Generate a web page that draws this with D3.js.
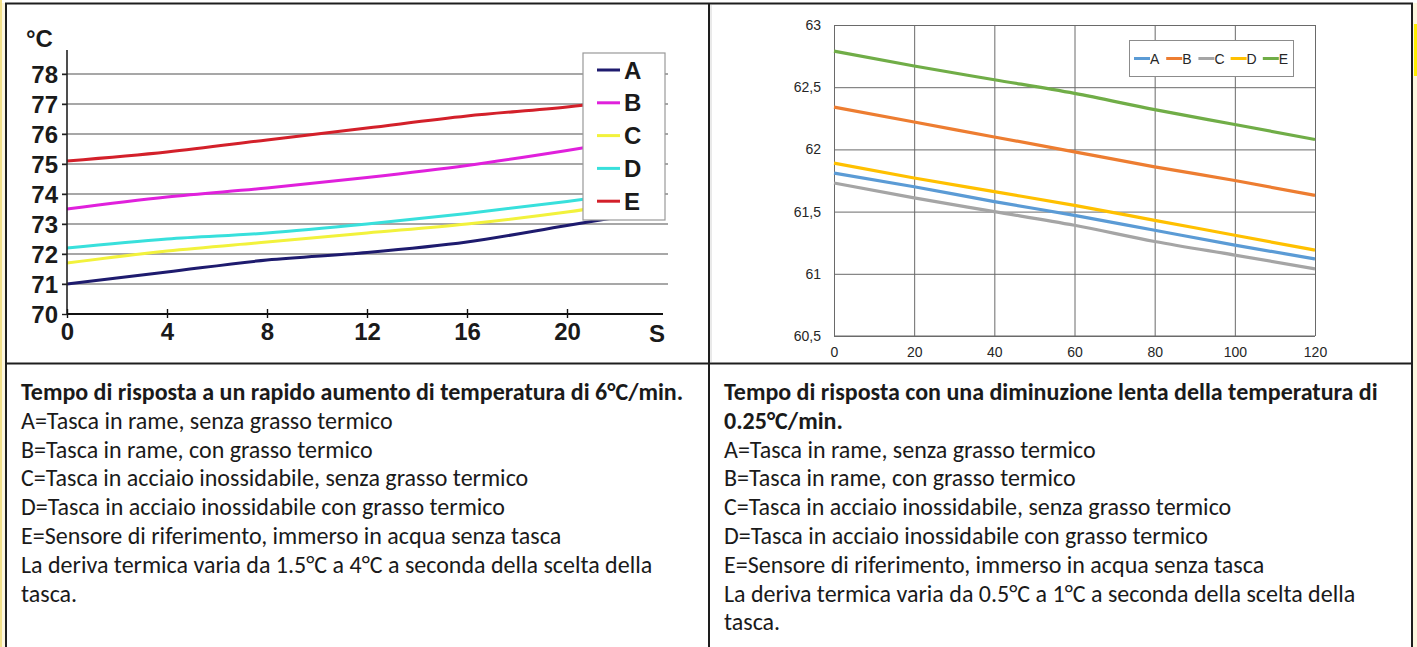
<!DOCTYPE html>
<html>
<head>
    <title>Tempo di risposta</title>
    <script src="https://cdn.jsdelivr.net/npm/d3@7"></script>
    <style>
        body { margin: 0; background: #fff; }
        svg { display: block; }
    </style>
</head>
<body>
    <svg width="1417" height="647" id="mainsvg"></svg>
    <script>
        // ---- data: left chart (rapid rise, seconds) ----
        const leftTime = [0, 4, 8, 12, 16, 20, 24];
        const leftA = [71.0, 71.4, 71.8, 72.05, 72.4, 72.95, 73.5];
        const leftB = [73.5, 73.9, 74.2, 74.55, 74.95, 75.45, 76.0];
        const leftC = [71.7, 72.1, 72.4, 72.7, 73.0, 73.4, 73.9];
        const leftD = [72.2, 72.5, 72.7, 73.0, 73.35, 73.75, 74.2];
        const leftE = [75.1, 75.4, 75.8, 76.2, 76.6, 76.9, 77.3];
        const leftYTicks = [70, 71, 72, 73, 74, 75, 76, 77, 78];
        const leftXTicks = [0, 4, 8, 12, 16, 20];

        // ---- data: right chart (slow decrease) ----
        const rightTime = [0, 20, 40, 60, 80, 100, 120];
        const rightA = [61.81, 61.70, 61.58, 61.47, 61.35, 61.23, 61.12];
        const rightB = [62.34, 62.22, 62.10, 61.98, 61.86, 61.75, 61.63];
        const rightC = [61.73, 61.61, 61.50, 61.39, 61.26, 61.15, 61.04];
        const rightD = [61.89, 61.77, 61.66, 61.55, 61.43, 61.31, 61.19];
        const rightE = [62.79, 62.67, 62.56, 62.45, 62.32, 62.20, 62.08];
        const rightYTicks = [60.5, 61, 61.5, 62, 62.5, 63];
        const rightXTicks = [0, 20, 40, 60, 80, 100, 120];

        const seriesNames = ['A', 'B', 'C', 'D', 'E'];

        const leftText = [
            'A=Tasca in rame, senza grasso termico',
            'B=Tasca in rame, con grasso termico',
            'C=Tasca in acciaio inossidabile, senza grasso termico',
            'D=Tasca in acciaio inossidabile con grasso termico',
            'E=Sensore di riferimento, immerso in acqua senza tasca',
            'La deriva termica varia da 1.5°C a 4°C a seconda della scelta della',
            'tasca.'
        ];
        const rightText = [
            'A=Tasca in rame, senza grasso termico',
            'B=Tasca in rame, con grasso termico',
            'C=Tasca in acciaio inossidabile, senza grasso termico',
            'D=Tasca in acciaio inossidabile con grasso termico',
            'E=Sensore di riferimento, immerso in acqua senza tasca',
            'La deriva termica varia da 0.5°C a 1°C a seconda della scelta della',
            'tasca.'
        ];

        const svg = d3.select('#mainsvg');

        // page background strips around the table
        svg.append('rect').attr('x', 0).attr('y', 0).attr('width', 1417).attr('height', 647).attr('fill', '#fdf7e0');
        svg.append('rect').attr('x', 0).attr('y', 0).attr('width', 1417).attr('height', 3).attr('fill', '#fff');
        svg.append('rect').attr('x', 1414).attr('y', 24).attr('width', 3).attr('height', 52).attr('fill', '#ffef00');
        svg.append('rect').attr('x', 0).attr('y', 0).attr('width', 2).attr('height', 647).attr('fill', '#f2e08a');
        svg.append('rect').attr('x', 6).attr('y', 3).attr('width', 1406).attr('height', 644).attr('fill', '#fff');

        // ================= LEFT CHART =================
        const leftColors = ['#1e1b6e', '#e020dc', '#f2f23c', '#38e0dc', '#d3202a'];
        const leftSeries = [leftA, leftB, leftC, leftD, leftE];

        const lx = d3.scaleLinear().domain([0, 24]).range([67, 667]);
        const ly = d3.scaleLinear().domain([70, 78]).range([314, 74]);

        const lg = svg.append('g').attr('id', 'left_chart');

        svg.append('clipPath').attr('id', 'lclip')
            .append('rect').attr('x', 60).attr('y', 40).attr('width', 603).attr('height', 280);

        // horizontal grid
        lg.append('g').selectAll('line').data(leftYTicks.filter(d => d > 70))
            .join('line')
            .attr('x1', 62).attr('x2', 668)
            .attr('y1', d => ly(d)).attr('y2', d => ly(d))
            .attr('stroke', '#8a8a8a').attr('stroke-width', 1.6);

        // series lines
        const lline = d3.line().x((d, i) => lx(leftTime[i])).y(d => ly(d)).curve(d3.curveMonotoneX);
        lg.append('g').attr('clip-path', 'url(#lclip)')
            .selectAll('path').data(leftSeries)
            .join('path')
            .attr('d', d => lline(d))
            .attr('fill', 'none')
            .attr('stroke', (d, i) => leftColors[i])
            .attr('stroke-width', 3);

        // y axis
        const lyAxis = d3.axisLeft(ly).tickValues(leftYTicks).tickSize(5).tickPadding(4);
        const lyG = lg.append('g').attr('transform', 'translate(67,0)').call(lyAxis);
        lyG.select('.domain').remove();
        lyG.append('line').attr('x1', 0).attr('x2', 0).attr('y1', 50).attr('y2', 314)
            .attr('stroke', '#222').attr('stroke-width', 1.6);
        lyG.selectAll('.tick line').attr('stroke', '#222').attr('stroke-width', 1.4);
        lyG.selectAll('.tick text')
            .attr('font-family', 'Liberation Sans, Arial, sans-serif')
            .attr('font-weight', 'bold').attr('font-size', 24).attr('fill', '#1a1a1a')
            .attr('dy', '0.36em');

        // x axis
        const lxAxis = d3.axisBottom(lx).tickValues(leftXTicks).tickSize(0).tickPadding(12);
        const lxG = lg.append('g').attr('transform', `translate(0,${ly(70)})`).call(lxAxis);
        lxG.select('.domain').remove();
        lxG.append('line').attr('x1', lx(0)).attr('x2', 663).attr('y1', 0).attr('y2', 0)
            .attr('stroke', '#111').attr('stroke-width', 2);
        lxG.selectAll('.tick').append('line').attr('y1', -5).attr('y2', 4)
            .attr('stroke', '#111').attr('stroke-width', 1.4);
        lxG.selectAll('.tick text')
            .attr('font-family', 'Liberation Sans, Arial, sans-serif')
            .attr('font-weight', 'bold').attr('font-size', 24).attr('fill', '#1a1a1a')
            .attr('dy', '0.6em');
        lxG.append('text').attr('x', 657).attr('y', 28)
            .attr('text-anchor', 'middle')
            .attr('font-family', 'Liberation Sans, Arial, sans-serif')
            .attr('font-weight', 'bold').attr('font-size', 24).attr('fill', '#1a1a1a')
            .text('S');

        lg.append('text').attr('x', 26).attr('y', 47)
            .attr('font-family', 'Liberation Sans, Arial, sans-serif')
            .attr('font-weight', 'bold').attr('font-size', 24).attr('fill', '#1a1a1a')
            .text('°C');

        // legend (covers line ends)
        const llg = lg.append('g');
        llg.append('rect').attr('x', 583).attr('y', 53).attr('width', 82).attr('height', 167)
            .attr('fill', '#fff').attr('stroke', '#999').attr('stroke-width', 1.2);
        const llItem = llg.selectAll('g').data(seriesNames).join('g')
            .attr('transform', (d, i) => `translate(0,${70 + i * 32.8})`);
        llItem.append('line').attr('x1', 597).attr('x2', 620)
            .attr('stroke', (d, i) => leftColors[i]).attr('stroke-width', 3);
        llItem.append('text').attr('x', 624).attr('dy', '0.36em')
            .attr('font-family', 'Liberation Sans, Arial, sans-serif')
            .attr('font-weight', 'bold').attr('font-size', 24).attr('fill', '#1a1a1a')
            .text(d => d);

        // ================= RIGHT CHART =================
        const rightColors = ['#5b9bd5', '#ed7d31', '#a5a5a5', '#ffc000', '#70ad47'];
        const rightSeries = [rightA, rightB, rightC, rightD, rightE];

        const rx = d3.scaleLinear().domain([0, 120]).range([834, 1315]);
        const ry = d3.scaleLinear().domain([60.5, 63]).range([336, 25]);

        svg.append('clipPath').attr('id', 'rclip')
            .append('rect').attr('x', 711).attr('y', 4).attr('width', 700).attr('height', 354);
        const rg = svg.append('g').attr('id', 'right_chart').attr('clip-path', 'url(#rclip)');

        const rxAxis = d3.axisBottom(rx).tickValues(rightXTicks).tickSize(-(ry(60.5) - ry(63))).tickPadding(13);
        const rxG = rg.append('g').attr('transform', `translate(0,${ry(60.5)})`).call(rxAxis);
        const ryAxis = d3.axisLeft(ry).tickValues(rightYTicks)
            .tickSize(-(rx(120) - rx(0))).tickPadding(13)
            .tickFormat(d => String(d).replace('.', ','));
        const ryG = rg.append('g').attr('transform', `translate(${rx(0)},0)`).call(ryAxis);
        [rxG, ryG].forEach(g => {
            g.select('.domain').remove();
            g.selectAll('.tick line').attr('stroke', '#6a6a6a').attr('stroke-width', 1);
            g.selectAll('.tick text')
                .attr('font-family', 'Liberation Sans, Arial, sans-serif')
                .attr('font-size', 14).attr('fill', '#262626');
        });
        rxG.selectAll('.tick text').attr('dy', '0.6em');
        rg.append('line').attr('x1', rx(0)).attr('x2', rx(120)).attr('y1', ry(60.5)).attr('y2', ry(60.5))
            .attr('stroke', '#6a6a6a').attr('stroke-width', 1);

        const rline = d3.line().x((d, i) => rx(rightTime[i])).y(d => ry(d)).curve(d3.curveMonotoneX);
        rg.append('g').selectAll('path').data(rightSeries)
            .join('path')
            .attr('d', d => rline(d))
            .attr('fill', 'none')
            .attr('stroke', (d, i) => rightColors[i])
            .attr('stroke-width', 3.2);

        // legend
        const rlg = rg.append('g');
        rlg.append('rect').attr('x', 1129.5).attr('y', 40.5).attr('width', 164).attr('height', 36)
            .attr('fill', '#fff').attr('stroke', '#8c8c8c').attr('stroke-width', 1);
        const rlItem = rlg.selectAll('g').data(seriesNames).join('g')
            .attr('transform', (d, i) => `translate(${1134 + i * 32.2},58.5)`);
        rlItem.append('line').attr('x1', 0).attr('x2', 16)
            .attr('stroke', (d, i) => rightColors[i]).attr('stroke-width', 3);
        rlItem.append('text').attr('x', 16).attr('dy', '0.36em')
            .attr('font-family', 'Liberation Sans, Arial, sans-serif')
            .attr('font-size', 14).attr('fill', '#262626')
            .text(d => d);

        // ================= TEXT CELLS =================
        const textFont = 'Carlito, Calibri, Lato, sans-serif';
        const tg = svg.append('g').attr('id', 'texts');

        // pick the size that gives the "A=" line its width in the picture (~372px)
        const probe = tg.append('text').attr('font-family', textFont).attr('font-size', 20)
            .text(leftText[0]);
        const fs = 20 * 372 / probe.node().getComputedTextLength();
        probe.remove();

        function textCell(x, titleLines, lines) {
            let y = 400;
            titleLines.forEach(t => {
                tg.append('text').attr('x', x).attr('y', y)
                    .attr('font-family', textFont).attr('font-size', fs)
                    .attr('font-weight', 'bold').attr('fill', '#1a1a1a').text(t);
                y += 28.8;
            });
            lines.forEach(t => {
                tg.append('text').attr('x', x).attr('y', y)
                    .attr('font-family', textFont).attr('font-size', fs)
                    .attr('fill', '#1a1a1a').text(t);
                y += 28.8;
            });
        }
        textCell(21, ['Tempo di risposta a un rapido aumento di temperatura di 6°C/min.'], leftText);
        textCell(724, ['Tempo di risposta con una diminuzione lenta della temperatura di', '0.25°C/min.'], rightText);

        // ================= TABLE BORDERS =================
        const bg = svg.append('g').attr('stroke', '#1e1e1e').attr('fill', 'none');
        bg.append('line').attr('x1', 5).attr('x2', 1413).attr('y1', 3.5).attr('y2', 3.5).attr('stroke-width', 2);
        bg.append('line').attr('x1', 5).attr('x2', 1413).attr('y1', 363.5).attr('y2', 363.5).attr('stroke-width', 2);
        bg.append('line').attr('x1', 6).attr('x2', 6).attr('y1', 3).attr('y2', 647).attr('stroke-width', 2);
        bg.append('line').attr('x1', 709).attr('x2', 709).attr('y1', 3).attr('y2', 647).attr('stroke-width', 2);
        bg.append('line').attr('x1', 1412).attr('x2', 1412).attr('y1', 3).attr('y2', 647).attr('stroke-width', 2);
        svg.append('line').attr('x1', 711).attr('x2', 711).attr('y1', 5).attr('y2', 362)
            .attr('stroke', '#d4d4d4').attr('stroke-width', 1);
    </script>
</body>
</html>
